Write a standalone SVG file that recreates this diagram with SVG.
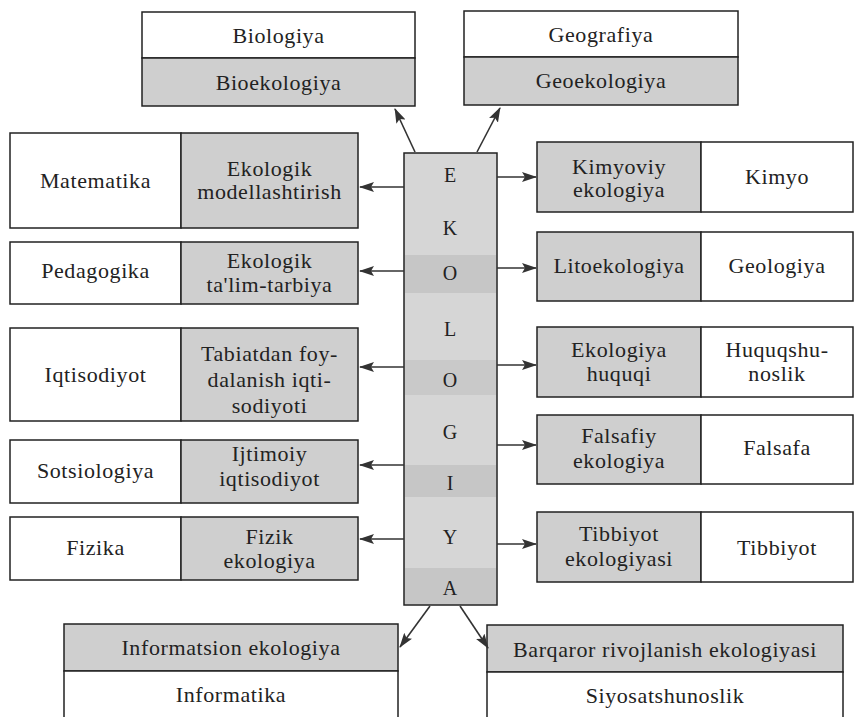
<svg xmlns="http://www.w3.org/2000/svg" width="854" height="717" viewBox="0 0 854 717">
<style>
.w{fill:#ffffff;stroke:#222;stroke-width:1.5}
.g{fill:#cfcfcf;stroke:#222;stroke-width:1.5}
.t{font-family:"Liberation Serif","Times New Roman",serif;font-size:22px;letter-spacing:0.6px;fill:#222;text-anchor:middle}
.L{font-family:"Liberation Serif","Times New Roman",serif;font-size:20px;fill:#222;text-anchor:middle}
.c line{stroke:#333;stroke-width:1.6;marker-end:url(#ah)}
</style>
<defs>
<marker id="ah" markerUnits="userSpaceOnUse" markerWidth="15" markerHeight="10" refX="14" refY="5" orient="auto">
<path d="M0,0 L15,5 L0,10 L3,5 z" fill="#333"/>
</marker>
</defs>
<rect width="854" height="717" fill="#ffffff"/>

<g id="ekologiya">
<rect x="404" y="153" width="93" height="452" fill="#d6d6d6"/>
<rect x="405" y="255" width="91" height="38" fill="#c6c6c6"/>
<rect x="405" y="360" width="91" height="35" fill="#c9c9c9"/>
<rect x="405" y="465" width="91" height="32" fill="#c6c6c6"/>
<rect x="405" y="568" width="91" height="36" fill="#c6c6c6"/>
<rect x="404" y="153" width="93" height="452" fill="none" stroke="#222" stroke-width="1.5"/>
<text class="L" x="450" y="182">E</text>
<text class="L" x="450" y="235">K</text>
<text class="L" x="450" y="280">O</text>
<text class="L" x="450" y="336">L</text>
<text class="L" x="450" y="387">O</text>
<text class="L" x="450" y="439">G</text>
<text class="L" x="450" y="490">I</text>
<text class="L" x="450" y="544">Y</text>
<text class="L" x="450" y="595">A</text>
</g>

<g id="biologiya">
<rect class="w" x="142" y="12" width="273" height="46"/>
<rect class="g" x="142" y="58" width="273" height="48"/>
<text class="t" x="278.5" y="43">Biologiya</text>
<text class="t" x="278.5" y="90">Bioekologiya</text>
</g>

<g id="geografiya">
<rect class="w" x="464" y="11" width="274" height="46"/>
<rect class="g" x="464" y="57" width="274" height="48"/>
<text class="t" x="601" y="42">Geografiya</text>
<text class="t" x="601" y="88">Geoekologiya</text>
</g>

<g id="matematika">
<rect class="w" x="10" y="133" width="171" height="95"/>
<rect class="g" x="181" y="133" width="177" height="95"/>
<text class="t" x="95.5" y="188">Matematika</text>
<text class="t" x="269.5" y="176">Ekologik</text>
<text class="t" x="269.5" y="199">modellashtirish</text>
</g>

<g id="pedagogika">
<rect class="w" x="10" y="242" width="171" height="62"/>
<rect class="g" x="181" y="242" width="177" height="62"/>
<text class="t" x="95.5" y="278">Pedagogika</text>
<text class="t" x="269.5" y="268">Ekologik</text>
<text class="t" x="269.5" y="292">ta'lim-tarbiya</text>
</g>

<g id="iqtisodiyot">
<rect class="w" x="10" y="328" width="171" height="93"/>
<rect class="g" x="181" y="328" width="177" height="93"/>
<text class="t" x="95.5" y="382">Iqtisodiyot</text>
<text class="t" x="269.5" y="361">Tabiatdan foy-</text>
<text class="t" x="269.5" y="387">dalanish iqti-</text>
<text class="t" x="269.5" y="413">sodiyoti</text>
</g>

<g id="sotsiologiya">
<rect class="w" x="10" y="440" width="171" height="63"/>
<rect class="g" x="181" y="440" width="177" height="63"/>
<text class="t" x="95.5" y="478">Sotsiologiya</text>
<text class="t" x="269.5" y="461">Ijtimoiy</text>
<text class="t" x="269.5" y="486">iqtisodiyot</text>
</g>

<g id="fizika">
<rect class="w" x="10" y="517" width="171" height="63"/>
<rect class="g" x="181" y="517" width="177" height="63"/>
<text class="t" x="95.5" y="555">Fizika</text>
<text class="t" x="269.5" y="544">Fizik</text>
<text class="t" x="269.5" y="568">ekologiya</text>
</g>

<g id="kimyo">
<rect class="g" x="537" y="142" width="164" height="70"/>
<rect class="w" x="701" y="142" width="152" height="70"/>
<text class="t" x="619" y="174">Kimyoviy</text>
<text class="t" x="619" y="197">ekologiya</text>
<text class="t" x="777" y="184">Kimyo</text>
</g>

<g id="geologiya">
<rect class="g" x="537" y="232" width="164" height="69"/>
<rect class="w" x="701" y="232" width="152" height="69"/>
<text class="t" x="619" y="273">Litoekologiya</text>
<text class="t" x="777" y="273">Geologiya</text>
</g>

<g id="huquqshunoslik">
<rect class="g" x="537" y="327" width="164" height="70"/>
<rect class="w" x="701" y="327" width="152" height="70"/>
<text class="t" x="619" y="357">Ekologiya</text>
<text class="t" x="619" y="381">huquqi</text>
<text class="t" x="777" y="357">Huquqshu-</text>
<text class="t" x="777" y="381">noslik</text>
</g>

<g id="falsafa">
<rect class="g" x="537" y="415" width="164" height="69"/>
<rect class="w" x="701" y="415" width="152" height="69"/>
<text class="t" x="619" y="443">Falsafiy</text>
<text class="t" x="619" y="468">ekologiya</text>
<text class="t" x="777" y="455">Falsafa</text>
</g>

<g id="tibbiyot">
<rect class="g" x="537" y="512" width="164" height="70"/>
<rect class="w" x="701" y="512" width="152" height="70"/>
<text class="t" x="619" y="541">Tibbiyot</text>
<text class="t" x="619" y="566">ekologiyasi</text>
<text class="t" x="777" y="555">Tibbiyot</text>
</g>

<g id="informatika">
<rect class="g" x="64" y="624" width="334" height="47"/>
<rect class="w" x="64" y="671" width="334" height="52"/>
<text class="t" x="231" y="655">Informatsion ekologiya</text>
<text class="t" x="231" y="702">Informatika</text>
</g>

<g id="siyosatshunoslik">
<rect class="g" x="487" y="625" width="356" height="47"/>
<rect class="w" x="487" y="672" width="356" height="52"/>
<text class="t" x="665" y="657">Barqaror rivojlanish ekologiyasi</text>
<text class="t" x="665" y="703">Siyosatshunoslik</text>
</g>

<g id="connectors" class="c">
<line x1="415" y1="152" x2="395" y2="109"/>
<line x1="477" y1="152" x2="500" y2="108"/>
<line x1="404" y1="187" x2="360" y2="187"/>
<line x1="404" y1="271" x2="360" y2="271"/>
<line x1="404" y1="367" x2="360" y2="367"/>
<line x1="404" y1="465" x2="360" y2="465"/>
<line x1="404" y1="539" x2="360" y2="539"/>
<line x1="497" y1="177" x2="536" y2="177"/>
<line x1="497" y1="268" x2="536" y2="268"/>
<line x1="497" y1="365" x2="536" y2="365"/>
<line x1="497" y1="445" x2="536" y2="445"/>
<line x1="497" y1="544" x2="536" y2="544"/>
<line x1="430" y1="606" x2="400" y2="647"/>
<line x1="460" y1="606" x2="488" y2="648"/>
</g>
</svg>
